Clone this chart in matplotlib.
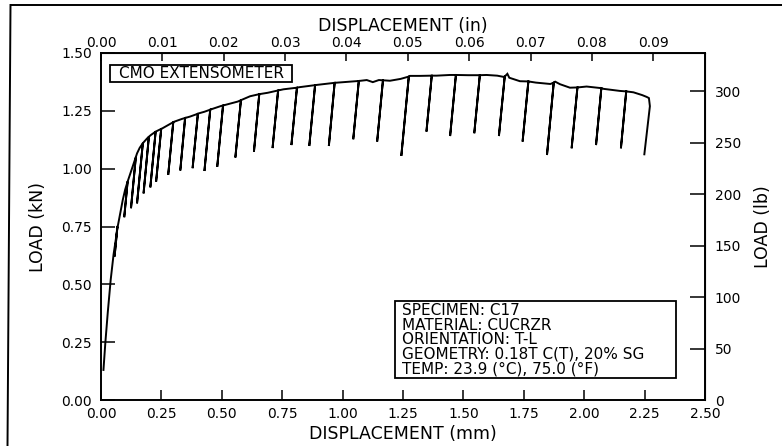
import matplotlib
matplotlib.use('Agg')
import matplotlib.pyplot as plt
from matplotlib.patches import Rectangle
from matplotlib.lines import Line2D

plt.rcParams['font.family'] = ['DejaVu Sans']

# envelope of the load-displacement record (mm, kN)
ENV_X = [0.010, 0.018, 0.028, 0.040, 0.052, 0.062, 0.070, 0.080, 0.090, 0.100,
         0.108, 0.120, 0.131, 0.149, 0.160, 0.173, 0.190, 0.207, 0.230, 0.255,
         0.280, 0.303, 0.335, 0.368, 0.400, 0.428, 0.460, 0.497, 0.530, 0.566,
         0.617, 0.690, 0.755, 0.820, 0.893, 0.960, 1.031, 1.100, 1.125, 1.150,
         1.196, 1.240, 1.279, 1.320, 1.389, 1.445, 1.520, 1.596, 1.640, 1.665,
         1.682, 1.690, 1.734, 1.800, 1.860, 1.880, 1.900, 1.941, 2.010, 2.080,
         2.148, 2.204, 2.240, 2.259, 2.268]
ENV_Y = [0.130, 0.250, 0.380, 0.520, 0.630, 0.700, 0.755, 0.810, 0.865, 0.910,
         0.937, 0.975, 1.009, 1.066, 1.090, 1.110, 1.130, 1.146, 1.162, 1.175,
         1.190, 1.203, 1.215, 1.225, 1.237, 1.246, 1.258, 1.271, 1.280, 1.290,
         1.313, 1.328, 1.343, 1.352, 1.362, 1.370, 1.376, 1.383, 1.374, 1.383,
         1.380, 1.388, 1.401, 1.401, 1.402, 1.405, 1.404, 1.405, 1.402, 1.397,
         1.410, 1.393, 1.378, 1.372, 1.366, 1.376, 1.365, 1.350, 1.355, 1.345,
         1.336, 1.330, 1.318, 1.310, 1.305]

# partial unloading cycles: start (top) and turning point (bottom)
TOP_X = [0.068, 0.110, 0.144, 0.173, 0.198, 0.226, 0.249, 0.299, 0.348, 0.401,
         0.452, 0.505, 0.579, 0.655, 0.733, 0.811, 0.886, 0.967, 1.067, 1.167,
         1.274, 1.369, 1.469, 1.568, 1.671, 1.769, 1.874, 1.972, 2.071, 2.174]
TOP_Y = [0.750, 0.944, 1.050, 1.110, 1.138, 1.160, 1.172, 1.201, 1.219, 1.238,
         1.255, 1.273, 1.296, 1.322, 1.338, 1.350, 1.361, 1.371, 1.379, 1.382,
         1.398, 1.402, 1.405, 1.404, 1.398, 1.377, 1.372, 1.351, 1.348, 1.334]
BOT_X = [0.056, 0.096, 0.124, 0.149, 0.176, 0.204, 0.228, 0.278, 0.328, 0.379,
         0.428, 0.481, 0.556, 0.633, 0.710, 0.788, 0.862, 0.943, 1.044, 1.143,
         1.243, 1.347, 1.445, 1.545, 1.647, 1.745, 1.846, 1.948, 2.049, 2.152]
BOT_Y = [0.620, 0.790, 0.829, 0.850, 0.893, 0.919, 0.944, 0.973, 0.992, 1.002,
         0.990, 1.008, 1.048, 1.074, 1.089, 1.102, 1.098, 1.098, 1.127, 1.117,
         1.055, 1.160, 1.141, 1.153, 1.141, 1.117, 1.059, 1.088, 1.102, 1.088]

# last unloading at the end of the test
TAIL_X = [2.272, 2.249]
TAIL_Y = [1.270, 1.062]

MM_TICKS = [0.00, 0.25, 0.50, 0.75, 1.00, 1.25, 1.50, 1.75, 2.00, 2.25, 2.50]
KN_TICKS = [0.00, 0.25, 0.50, 0.75, 1.00, 1.25, 1.50]
IN_TICKS = [0.00, 0.01, 0.02, 0.03, 0.04, 0.05, 0.06, 0.07, 0.08, 0.09]
LB_TICKS = [0, 50, 100, 150, 200, 250, 300]

INFO_LINES = ['SPECIMEN: C17',
              'MATERIAL: CUCRZR',
              'ORIENTATION: T-L',
              'GEOMETRY: 0.18T C(T), 20% SG',
              'TEMP: 23.9 (\u00b0C), 75.0 (\u00b0F)']

MM_PER_IN = 25.4
LB_PER_KN = 224.809


def build_path():
    xs, ys = [], []
    ci = 0
    for x, y in zip(ENV_X, ENV_Y):
        # drop in the unloading excursions where they happen along the envelope
        while ci < len(TOP_X) and TOP_X[ci] <= x:
            xs += [TOP_X[ci], BOT_X[ci], TOP_X[ci]]
            ys += [TOP_Y[ci], BOT_Y[ci], TOP_Y[ci]]
            ci += 1
        xs.append(x)
        ys.append(y)
    xs += TAIL_X
    ys += TAIL_Y
    return xs, ys


def main():
    fig = plt.figure(figsize=(7.82, 4.46), dpi=100)
    ax = fig.add_axes([0.1292, 0.1031, 0.7723, 0.7781])

    xs, ys = build_path()
    ax.plot(xs, ys, color='black', lw=1.4, solid_joinstyle='miter')

    ax.set_xlim(0, 2.5)
    ax.set_ylim(0, 1.5)
    ax.set_xticks(MM_TICKS)
    ax.set_yticks(KN_TICKS)
    ax.set_xticklabels([f'{v:.2f}' for v in MM_TICKS])
    ax.set_yticklabels([f'{v:.2f}' for v in KN_TICKS])
    ax.tick_params(axis='x', direction='in', length=7, width=1.1, pad=5, labelsize=10)
    ax.tick_params(axis='y', direction='in', length=10, width=1.1, pad=6.5, labelsize=10)
    for s in ax.spines.values():
        s.set_linewidth(1.4)

    ax.set_xlabel('DISPLACEMENT (mm)', fontsize=12.5, labelpad=3)
    ax.set_ylabel('LOAD (kN)', fontsize=12.5, labelpad=10)

    top = ax.secondary_xaxis('top', functions=(lambda v: v / MM_PER_IN, lambda v: v * MM_PER_IN))
    top.set_xticks(IN_TICKS)
    top.set_xticklabels([f'{v:.2f}' for v in IN_TICKS])
    top.tick_params(direction='in', length=6, width=1.1, pad=2.5, labelsize=10)
    top.set_xlabel('DISPLACEMENT (in)', fontsize=12.5, labelpad=3)

    right = ax.secondary_yaxis('right', functions=(lambda v: v * LB_PER_KN, lambda v: v / LB_PER_KN))
    right.set_yticks(LB_TICKS)
    right.set_yticklabels([str(v) for v in LB_TICKS])
    right.tick_params(direction='in', length=11, width=1.1, pad=7, labelsize=10)
    right.set_ylabel('LOAD (lb)', fontsize=12.5, labelpad=9)

    # annotation boxes
    ax.add_patch(Rectangle((0.0149, 0.9164), 0.3013, 0.049, transform=ax.transAxes,
                           fill=False, lw=1.3, color='black'))
    ax.text(0.1656, 0.9409, 'CMO EXTENSOMETER', transform=ax.transAxes,
            ha='center', va='center', fontsize=11)

    ax.add_patch(Rectangle((0.4868, 0.0625), 0.4652, 0.2237, transform=ax.transAxes,
                           fill=False, lw=1.3, color='black'))
    for i, line in enumerate(INFO_LINES):
        ax.text(0.4978, 0.2573 - i * 0.042, line, transform=ax.transAxes,
                ha='left', va='center', fontsize=11)

    # border of the scanned page
    fig.add_artist(Line2D([10.5 / 782, 7.5 / 782], [1 - 5 / 446, 0], color='black', lw=1.4))
    fig.add_artist(Line2D([10.5 / 782, 1], [1 - 5 / 446, 1 - 5 / 446], color='black', lw=1.4))

    fig.savefig('out.png', dpi=100)


if __name__ == '__main__':
    main()
